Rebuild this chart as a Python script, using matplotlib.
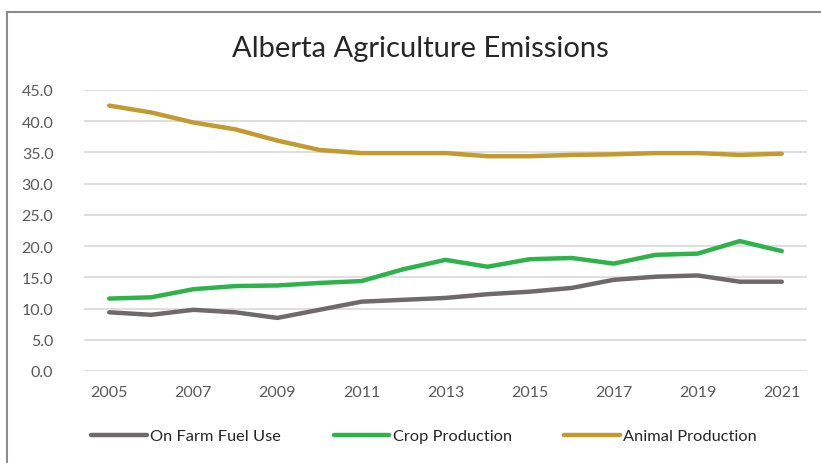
import matplotlib
matplotlib.use("Agg")
import matplotlib.pyplot as plt
from matplotlib.lines import Line2D

plt.rcParams['font.family'] = ['Lato', 'DejaVu Sans']

# Data (Mt CO2e, roughly)
years = list(range(2005, 2022))
fuel_use = [9.4, 9.0, 9.8, 9.4, 8.5, 9.8, 11.1, 11.4, 11.7, 12.3, 12.7, 13.3, 14.6, 15.1, 15.3, 14.3, 14.3]
crop_prod = [11.6, 11.8, 13.1, 13.6, 13.7, 14.1, 14.4, 16.3, 17.8, 16.7, 17.9, 18.1, 17.2, 18.6, 18.8, 20.8, 19.2]
animal_prod = [42.5, 41.4, 39.8, 38.7, 36.9, 35.4, 34.9, 34.9, 34.9, 34.4, 34.4, 34.6, 34.7, 34.9, 34.9, 34.6, 34.8]

series_names = ['On Farm Fuel Use', 'Crop Production', 'Animal Production']
series_colors = ['#6e6a6a', '#2db34a', '#c39a2f']
x_ticks = list(range(2005, 2022, 2))
y_ticks = [0, 5, 10, 15, 20, 25, 30, 35, 40, 45]

fig = plt.figure(figsize=(8.21, 4.64), dpi=100)
ax = fig.add_axes([84 / 821, 1 - 372 / 464, (807 - 84) / 821, (372 - 91) / 464])

for vals, name, col in zip([fuel_use, crop_prod, animal_prod], series_names, series_colors):
    ax.plot(years, vals, color=col, lw=3.2, label=name, solid_capstyle='round')

ax.set_xlim(2004.4, 2021.6)
ax.set_ylim(0, 45)
ax.set_xticks(x_ticks)
ax.set_yticks(y_ticks)
ax.set_yticklabels([f'{v:.1f}' for v in y_ticks])
ax.tick_params(length=0, labelsize=11.5, colors='#595959', pad=10)
ax.tick_params(axis='y', pad=22)
ax.grid(axis='y', color='#d9d9d9', lw=1.2)
ax.set_axisbelow(True)
for s in ax.spines.values():
    s.set_visible(False)

fig.text(420 / 821, 1 - 49 / 464, 'Alberta Agriculture Emissions', ha='center', va='center',
         fontsize=21, color='#262626')

fig.legend(loc='center', bbox_to_anchor=(424 / 821, 1 - 437 / 464), ncol=3, frameon=False,
           fontsize=11.8, handlelength=3.4, handletextpad=0.2, columnspacing=3.2,
           labelcolor='#262626')

# outer chart border, only the left and top edges are in the crop
bx, by = 7 / 821, 1 - 13 / 464
fig.lines.append(Line2D([bx, bx], [0, by], transform=fig.transFigure, color='#8c8c8c', lw=1.5))
fig.lines.append(Line2D([bx, 1], [by, by], transform=fig.transFigure, color='#8c8c8c', lw=1.5))

fig.savefig('out.png', dpi=100)
